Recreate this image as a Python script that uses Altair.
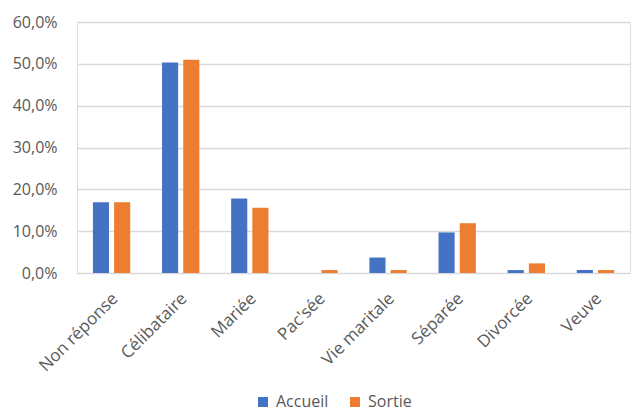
import altair as alt
import pandas as pd

# Marital status at admission (Accueil) and at exit (Sortie), in percent
categories = ["Non réponse", "Célibataire", "Mariée", "Pac'sée", "Vie maritale",
              "Séparée", "Divorcée", "Veuve"]
accueil = [16.9, 50.3, 17.8, 0.0, 3.7, 9.7, 0.7, 0.7]
sortie = [16.9, 51.0, 15.6, 0.7, 0.7, 11.9, 2.3, 0.7]
series = ["Accueil", "Sortie"]
colors = ["#4472C4", "#ED7D31"]

rows = []
for cat, a, s in zip(categories, accueil, sortie):
    rows.append({"statut": cat, "serie": "Accueil", "valeur": a})
    rows.append({"statut": cat, "serie": "Sortie", "valeur": s})
df = pd.DataFrame(rows)

FONT = "Open Sans"
GREY = "#595959"

chart = alt.Chart(df).mark_bar().encode(
    x=alt.X("statut:N", sort=categories, title=None,
            scale=alt.Scale(paddingInner=0.46, paddingOuter=0.23),
            axis=alt.Axis(labelAngle=-45, labelAlign="right", labelBaseline="top",
                          labelFont=FONT, labelFontSize=17, labelColor=GREY,
                          ticks=False, domainColor="#D9D9D9", domainWidth=1,
                          labelPadding=17, labelOffset=-2)),
    xOffset=alt.XOffset("serie:N", sort=series,
                        scale=alt.Scale(paddingInner=0.24, paddingOuter=0)),
    y=alt.Y("valeur:Q", title=None,
            scale=alt.Scale(domain=[0, 60], nice=False),
            axis=alt.Axis(values=[0, 10, 20, 30, 40, 50, 60],
                          labelExpr="replace(format(datum.value, '.1f'), '.', ',') + '%'",
                          labelFont=FONT, labelFontSize=16, labelColor=GREY,
                          ticks=False, domain=False, gridColor="#D9D9D9",
                          gridWidth=1.5, labelPadding=20)),
    color=alt.Color("serie:N", sort=series,
                    scale=alt.Scale(domain=series, range=colors),
                    legend=alt.Legend(title=None, orient="none", direction="horizontal",
                                      legendX=178, legendY=372,
                                      symbolType="square", symbolSize=100,
                                      symbolStrokeWidth=0,
                                      labelFont=FONT, labelFontSize=16,
                                      labelColor=GREY, columnPadding=18,
                                      labelOffset=5)),
).properties(
    width=553, height=251,
    autosize=alt.AutoSizeParams(type="none"),
    padding={"left": 77, "top": 22, "right": 2, "bottom": 139},
).configure_view(stroke=None).configure(background="white")

chart.save("out.html", embed_options={"renderer": "svg", "actions": False})
